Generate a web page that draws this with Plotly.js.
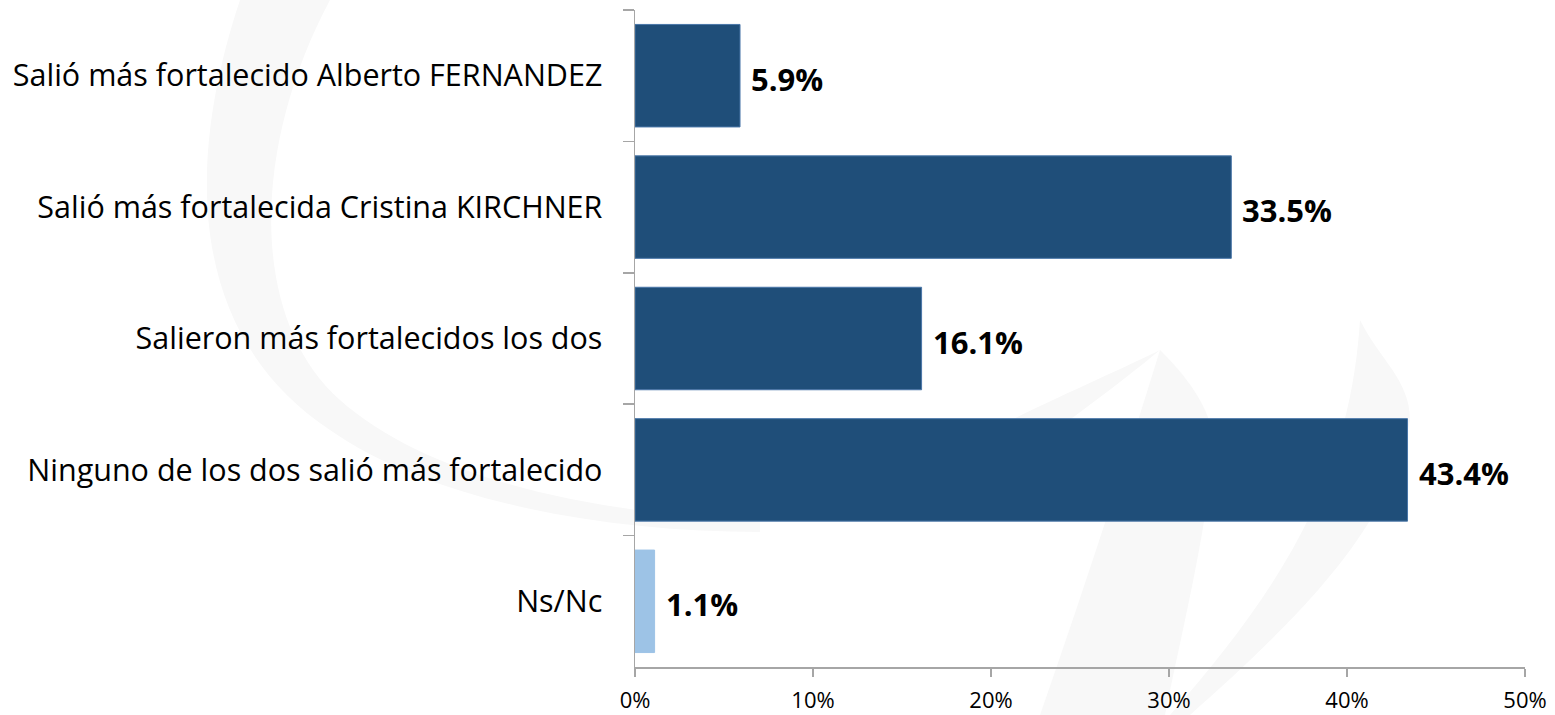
<!DOCTYPE html>
<html>
<head>
<meta charset="utf-8">
<script src="https://cdn.plot.ly/plotly-3.0.1.min.js"></script>
<style>html,body{margin:0;padding:0;background:#fff;}#chart{width:1555px;height:715px;}</style>
</head>
<body>
<div id="chart"></div>
<script>
const categories = [
  "Salió más fortalecido Alberto FERNANDEZ",
  "Salió más fortalecida Cristina KIRCHNER",
  "Salieron más fortalecidos los dos",
  "Ninguno de los dos salió más fortalecido",
  "Ns/Nc"
];
const values = [5.9, 33.5, 16.1, 43.4, 1.1];
const barColors = ["#1F4E79", "#1F4E79", "#1F4E79", "#1F4E79", "#9DC3E6"];
const lineColors = ["#4A76A8", "#4A76A8", "#4A76A8", "#4A76A8", "#9DC3E6"];
const valueLabels = values.map(v => v.toFixed(1) + "%");

const W = 1555, H = 715;
const L = 635, R = 30, T = 10, B = 48;
function px(x){ return ((x - L) / (W - L - R)).toFixed(4); }
function py(y){ return ((H - B - y) / (H - T - B)).toFixed(4); }
function pathFrom(cmds){
  return cmds.map(c => {
    const op = c[0];
    const nums = c.slice(1);
    const out = [];
    for (let i = 0; i < nums.length; i += 2) out.push(px(nums[i]) + "," + py(nums[i+1]));
    return op + " " + out.join(" ");
  }).join(" ");
}
const wm1 = pathFrom([
  ["M", 240, 0],
  ["C", 190, 150, 180, 330, 330, 430],
  ["C", 430, 500, 600, 532, 760, 532],
  ["L", 760, 520],
  ["C", 600, 515, 430, 480, 340, 400],
  ["C", 250, 320, 250, 150, 330, 0],
  ["Z"]
]);
const wm2 = pathFrom([
  ["M", 1160, 350],
  ["C", 1200, 390, 1225, 430, 1210, 480],
  ["C", 1200, 560, 1180, 640, 1165, 715],
  ["L", 1040, 715],
  ["C", 1080, 600, 1120, 480, 1160, 350],
  ["Z"]
]);
const wm3 = pathFrom([
  ["M", 1360, 320],
  ["C", 1380, 360, 1410, 380, 1410, 420],
  ["C", 1390, 520, 1320, 600, 1190, 715],
  ["L", 1170, 715],
  ["C", 1280, 590, 1350, 480, 1360, 320],
  ["Z"]
]);
const wm4 = pathFrom([
  ["M", 900, 480],
  ["C", 1000, 420, 1100, 380, 1160, 350],
  ["C", 1100, 400, 1000, 470, 960, 500],
  ["Z"]
]);

const FONT = "'Open Sans', 'Noto Sans', sans-serif";

const trace = {
  type: "bar",
  orientation: "h",
  y: categories,
  x: values,
  marker: { color: barColors, line: { color: lineColors, width: 1 } },
  hoverinfo: "skip"
};

const annotations = categories.map((c, i) => ({
  x: values[i], y: c, xref: "x", yref: "y",
  text: "<b>" + valueLabels[i] + "</b>",
  showarrow: false, xanchor: "left", yanchor: "middle",
  xshift: 9, yshift: -3,
  font: { family: FONT, size: 31, color: "#000000" }
}));

const shapeStyle = { type: "path", xref: "paper", yref: "paper", fillcolor: "#f8f8f8", line: { width: 0 }, layer: "below" };
const shapes = [wm1, wm2, wm3, wm4].map(p => Object.assign({ path: p }, shapeStyle));

const layout = {
  width: W, height: H,
  margin: { l: L, r: R, t: T, b: B, pad: 0 },
  paper_bgcolor: "#ffffff",
  plot_bgcolor: "rgba(0,0,0,0)",
  showlegend: false,
  bargap: 0.22,
  font: { family: FONT, color: "#000000" },
  xaxis: {
    range: [0, 50], dtick: 10, tick0: 0, ticksuffix: "%",
    showgrid: false, zeroline: false,
    showline: true, linecolor: "#A6A6A6", linewidth: 1.5,
    ticks: "outside", ticklen: 8, tickcolor: "#A6A6A6", tickwidth: 1.5,
    ticklabelstandoff: 5,
    tickfont: { size: 22, color: "#000000" },
    fixedrange: true
  },
  yaxis: {
    type: "category", autorange: "reversed",
    showgrid: false, zeroline: false,
    showline: true, linecolor: "#A6A6A6", linewidth: 1.5,
    ticks: "outside", ticklen: 11, tickcolor: "#A6A6A6", tickwidth: 1.5,
    tickson: "boundaries",
    ticklabelstandoff: 25,
    tickfont: { size: 30.5, color: "#000000" },
    fixedrange: true
  },
  annotations: annotations,
  shapes: shapes
};

Plotly.newPlot("chart", [trace], layout, { displayModeBar: false, staticPlot: true });
</script>
</body>
</html>
